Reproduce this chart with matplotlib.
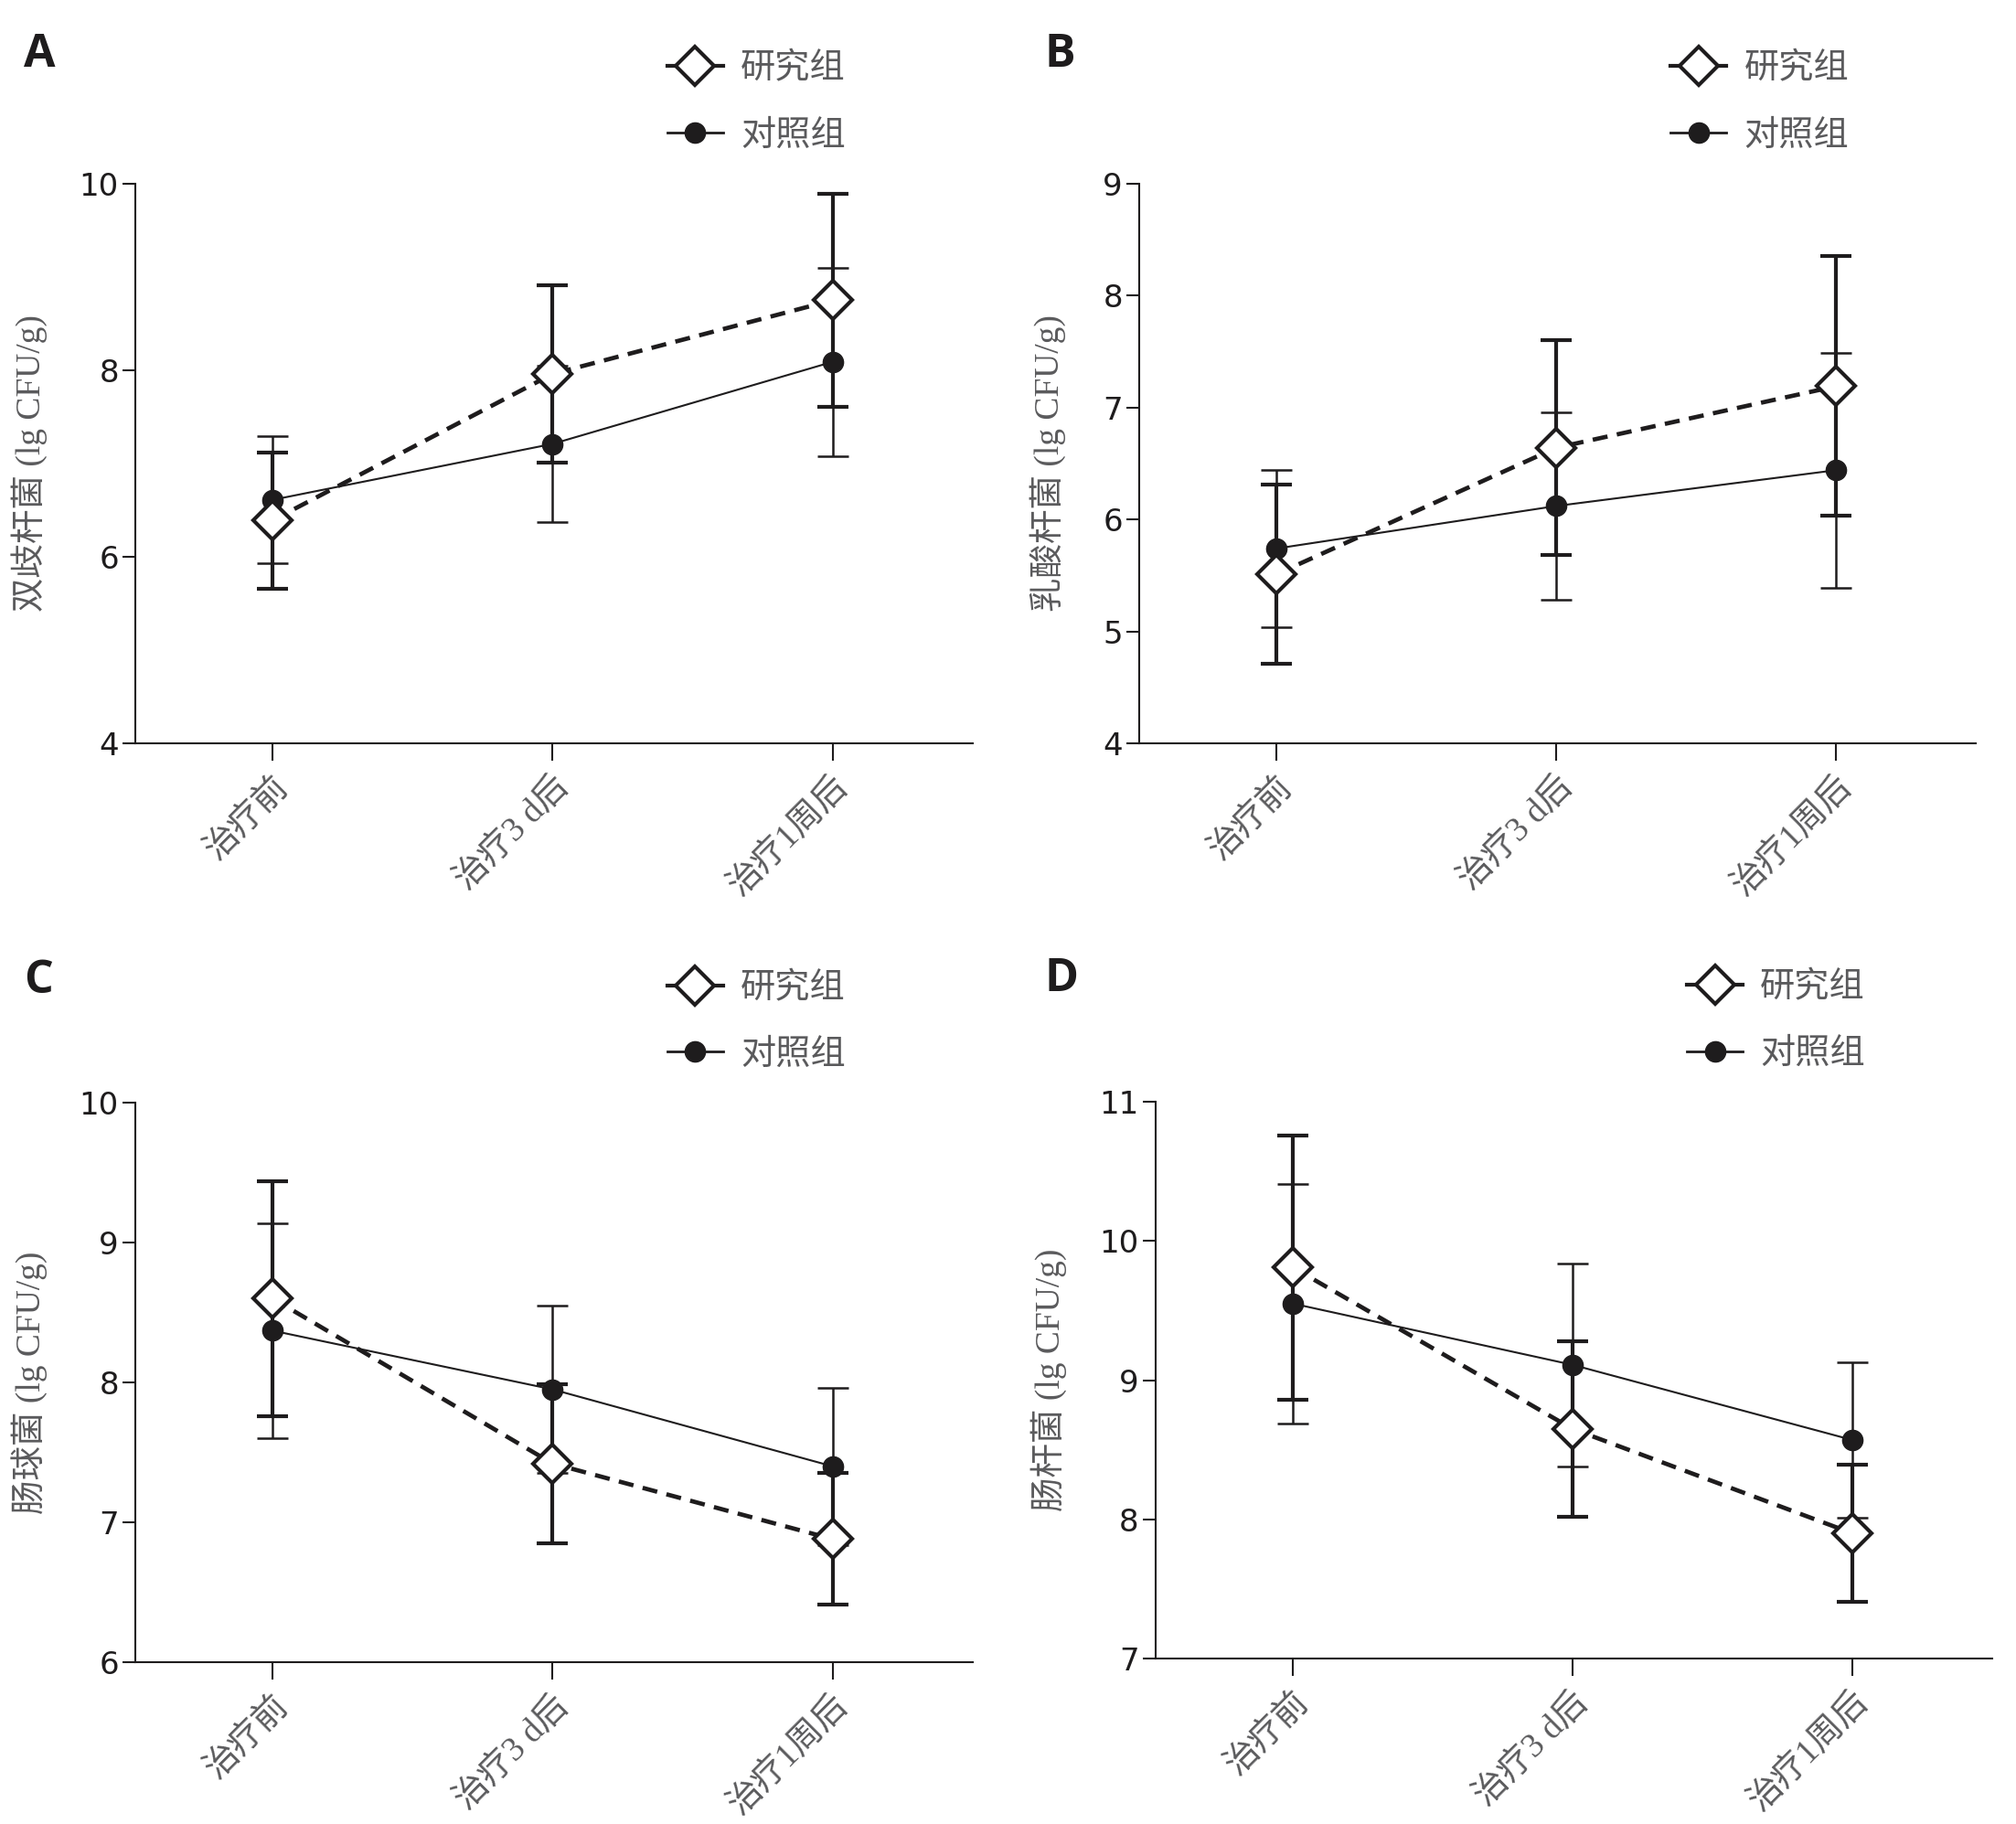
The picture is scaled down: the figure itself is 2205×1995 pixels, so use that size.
import matplotlib.pyplot as plt
from matplotlib.lines import Line2D

cats = ['治疗前', '治疗3 d后', '治疗1周后']
groups = ['研究组', '对照组']

# panel A - 双歧杆菌
a_res = [6.39, 7.96, 8.75]
a_res_err = [0.73, 0.95, 1.14]
a_ctl = [6.61, 7.21, 8.09]
a_ctl_err = [0.68, 0.84, 1.01]

# panel B - 乳酸杆菌
b_res = [5.51, 6.64, 7.19]
b_res_err = [0.80, 0.96, 1.16]
b_ctl = [5.74, 6.12, 6.44]
b_ctl_err = [0.70, 0.84, 1.05]

# panel C - 肠球菌
c_res = [8.60, 7.42, 6.88]
c_res_err = [0.84, 0.57, 0.47]
c_ctl = [8.37, 7.95, 7.40]
c_ctl_err = [0.77, 0.60, 0.56]

# panel D - 肠杆菌
d_res = [9.81, 8.65, 7.90]
d_res_err = [0.95, 0.63, 0.49]
d_ctl = [9.55, 9.11, 8.57]
d_ctl_err = [0.86, 0.73, 0.56]

ink = '#1e1c1d'
grey = '#5a5a5c'
mixed = ['Liberation Serif', 'Noto Sans CJK SC']
cjk = ['Noto Sans CJK SC', 'DejaVu Sans']

panels = [
    ('A', '双歧杆菌 (lg CFU/g)', a_res, a_res_err, a_ctl, a_ctl_err, (4, 10),
     [0.0671, 0.5925, 0.4154, 0.3068], -0.105, (0.012, 0.970)),
    ('B', '乳酸杆菌 (lg CFU/g)', b_res, b_res_err, b_ctl, b_ctl_err, (4, 9),
     [0.5651, 0.5925, 0.4150, 0.3068], -0.087, (0.518, 0.970)),
    ('C', '肠球菌 (lg CFU/g)', c_res, c_res_err, c_ctl, c_ctl_err, (6, 10),
     [0.0671, 0.0887, 0.4154, 0.3068], -0.105, (0.012, 0.462)),
    ('D', '肠杆菌 (lg CFU/g)', d_res, d_res_err, d_ctl, d_ctl_err, (7, 11),
     [0.5732, 0.0907, 0.4150, 0.3053], -0.106, (0.518, 0.463)),
]

fig = plt.figure(figsize=(22.05, 19.95), dpi=100)

for letter, ylab, res, res_err, ctl, ctl_err, ylim, rect, labx, letpos in panels:
    ax = fig.add_axes(rect)
    x = list(range(len(cats)))

    ax.errorbar(x, ctl, yerr=ctl_err, color=ink, lw=1.5, marker='o', ms=16,
                mfc=ink, mec=ink, capsize=12, elinewidth=1.8, capthick=1.8,
                zorder=3)
    ax.errorbar(x, res, yerr=res_err, color=ink, lw=3.4, linestyle=(0, (3.5, 2.2)),
                marker='D', ms=21, mfc='white', mec=ink, mew=3, capsize=12,
                elinewidth=3, capthick=3, zorder=4)

    ax.set_xlim(-0.49, 2.5)
    ax.set_ylim(*ylim)
    ax.set_yticks(range(ylim[0], ylim[1] + 1, 2 if letter == 'A' else 1))
    ax.set_xticks(x)
    ax.set_xticklabels(cats, rotation=45, ha='right', va='top',
                       rotation_mode='anchor', family=mixed, fontsize=27,
                       color=grey)
    for s in ['top', 'right']:
        ax.spines[s].set_visible(False)
    for s in ['left', 'bottom']:
        ax.spines[s].set_linewidth(1.5)
        ax.spines[s].set_color(ink)
    ax.tick_params(axis='y', direction='out', length=10, width=1.5,
                   labelsize=24.5, pad=3, colors=ink)
    ax.tick_params(axis='x', direction='out', length=14, width=1.5, pad=8,
                   colors=ink)
    for t in ax.get_xticklabels():
        t.set_color(grey)

    ax.set_ylabel(ylab, family=mixed, fontsize=27, color=grey)
    ax.yaxis.set_label_coords(labx, 0.5)

    handles = [
        Line2D([], [], color=ink, lw=3, marker='D', ms=21, mfc='white',
               mec=ink, mew=3),
        Line2D([], [], color=ink, lw=2, marker='o', ms=16, mfc=ink, mec=ink),
    ]
    leg = ax.legend(handles, groups, loc='upper left',
                    bbox_to_anchor=(0.635, 1.237), frameon=False,
                    prop={'family': cjk, 'size': 27.5}, handlelength=1.6,
                    handletextpad=0.5, labelspacing=0.88, borderpad=0,
                    borderaxespad=0)
    for t in leg.get_texts():
        t.set_color(grey)

    fig.text(letpos[0], letpos[1], letter, fontsize=36, fontweight='bold',
             family='Open Sans', color=ink, ha='left', va='center')

fig.savefig('out.png', dpi=100)
